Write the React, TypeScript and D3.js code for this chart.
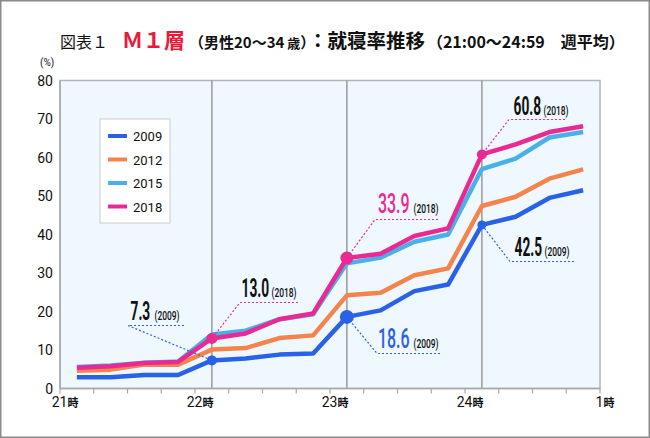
import React from "react";
import * as d3 from "d3";

const years = ["2009", "2012", "2015", "2018"];
const colors = ["#2962E6", "#F5844C", "#4AB0EA", "#EA2A94"];
const s2009 = [2.9, 2.9, 3.5, 3.5, 7.3, 7.8, 8.8, 9.1, 18.6, 20.3, 25.3, 27.0, 42.5, 44.6, 49.5, 51.5];
const s2012 = [4.6, 4.9, 6.2, 6.2, 10.1, 10.5, 13.1, 13.8, 24.2, 24.9, 29.4, 31.2, 47.4, 49.8, 54.5, 56.9];
const s2015 = [5.6, 6.0, 6.7, 7.0, 14.0, 15.0, 18.0, 19.3, 32.5, 34.0, 38.1, 40.0, 57.0, 59.7, 65.2, 66.6];
const s2018 = [5.4, 5.8, 6.6, 6.9, 13.0, 14.3, 18.0, 19.5, 33.9, 35.0, 39.6, 41.6, 60.8, 63.4, 66.6, 68.1];
const series = [s2009, s2012, s2015, s2018];
const yTicks = [0, 10, 20, 30, 40, 50, 60, 70, 80];
const hourLabels = ["21", "22", "23", "24", "1"];

const W = 650, H = 438;
const x = d3.scaleLinear().domain([0, 16]).range([60, 600]);
const y = d3.scaleLinear().domain([0, 80]).range([388.5, 80.5]);

type Ann = { s: number; i: number; r: number; num: string; yr: string; numColor: string; big: boolean; tx: number; ty: number; lx1: number; lx2: number; ly: number; };
const anns: Ann[] = [
  { s: 0, i: 4, r: 5, num: "7.3", yr: "(2009)", numColor: "#111", big: false, tx: 130.5, ty: 320, lx1: 128, lx2: 184, ly: 325.5 },
  { s: 3, i: 4, r: 5.5, num: "13.0", yr: "(2018)", numColor: "#111", big: false, tx: 241.5, ty: 297, lx1: 240, lx2: 298, ly: 302.5 },
  { s: 3, i: 8, r: 6.5, num: "33.9", yr: "(2018)", numColor: "#EA2A94", big: true, tx: 378, ty: 213, lx1: 375, lx2: 438, ly: 219.5 },
  { s: 0, i: 8, r: 7, num: "18.6", yr: "(2009)", numColor: "#2962E6", big: true, tx: 378, ty: 347.5, lx1: 377, lx2: 440, ly: 353.5 },
  { s: 3, i: 12, r: 5, num: "60.8", yr: "(2018)", numColor: "#111", big: false, tx: 513.5, ty: 114.5, lx1: 509, lx2: 565, ly: 119.5 },
  { s: 0, i: 12, r: 4.5, num: "42.5", yr: "(2009)", numColor: "#111", big: false, tx: 514.5, ty: 255.5, lx1: 510, lx2: 574, ly: 261.5 },
];

const condensedFont = "Roboto, 'Liberation Sans', sans-serif";

function CondText({ x0, y0, text, size, fill, sx, weight }: { x0: number; y0: number; text: string; size: number; fill: string; sx: number; weight: number }) {
  return (
    <text transform={`translate(${x0},${y0}) scale(${sx},1)`} fontFamily={condensedFont} fontSize={size} fontWeight={weight} fill={fill}>
      {text}
    </text>
  );
}

export default function App() {
  const line = d3.line<number>().x((_, i) => x(i + 0.5)).y((d) => y(d));
  const jp = "'Noto Sans CJK JP', 'Noto Sans', sans-serif";
  const ticks = d3.range(0, 17);
  return (
    <svg width={W} height={H} style={{ position: "absolute", left: 0, top: 0, background: "#fff" }}>
      <rect x={0.75} y={0.75} width={W - 1.5} height={H - 1.5} fill="#fff" stroke="#8a8a8a" strokeWidth={1.5} />
      {/* title */}
      <text y={48} fontFamily={jp} fill="#111">
        <tspan x={60} fontSize={16} fontWeight={400}>図表１</tspan>
        <tspan x={122} fontSize={21} fontWeight={700} fill="#E8193C">Ｍ１層</tspan>
        <tspan x={189} fontSize={15} fontWeight={700}>（男性20～34</tspan>
        <tspan fontSize={13} fontWeight={700}> 歳</tspan>
        <tspan fontSize={15} fontWeight={700}>）</tspan>
        <tspan fontSize={19.5} fontWeight={700}>：就寝率推移</tspan>
        <tspan fontSize={16} fontWeight={700} dx={2}>（21:00～24:59　週平均）</tspan>
      </text>
      <text x={40} y={66} fontFamily={condensedFont} fontSize={10} fill="#111">(%)</text>
      {/* plot bg */}
      <rect x={x(0)} y={y(80)} width={x(16) - x(0)} height={y(0) - y(80)} fill="#EFF8FE" stroke="#b4b4b4" strokeWidth={1.5} />
      {[4.5, 8.5, 12.5].map((v) => (
        <line key={v} x1={x(v)} x2={x(v)} y1={y(80)} y2={y(0)} stroke="#9a9a9a" strokeWidth={1.5} />
      ))}
      {/* axes */}
      <line x1={x(0)} x2={x(0)} y1={y(80)} y2={y(0)} stroke="#a8a8a8" strokeWidth={1.5} />
      <line x1={x(0)} x2={x(16)} y1={y(0)} y2={y(0)} stroke="#a8a8a8" strokeWidth={1.5} />
      {ticks.map((t) => (
        <line key={t} x1={x(t)} x2={x(t)} y1={y(0)} y2={y(0) + 5} stroke="#a8a8a8" strokeWidth={1.2} />
      ))}
      {yTicks.map((t) => (
        <text key={t} x={53} y={y(t) + 5} textAnchor="end" fontFamily={condensedFont} fontSize={14} fill="#111">{t}</text>
      ))}
      {hourLabels.map((h, k) => (
        <text key={h} x={x(k * 4) + 5} y={407} textAnchor="middle" fontFamily={jp} fill="#111">
          <tspan fontSize={14} fontFamily={condensedFont}>{h}</tspan>
          <tspan fontSize={11} fontWeight={700}>時</tspan>
        </text>
      ))}
      {/* series */}
      {series.map((s, k) => (
        <path key={years[k]} d={line(s) || ""} fill="none" stroke={colors[k]} strokeWidth={4.5} strokeLinejoin="round" />
      ))}
      {/* annotations */}
      {anns.map((a, k) => {
        const px = x(a.i + 0.5), py = y(series[a.s][a.i]);
        return (
          <g key={k}>
            <polyline points={`${a.lx2},${a.ly} ${a.lx1},${a.ly} ${px},${py}`} fill="none" stroke={colors[a.s]} strokeWidth={1.2} strokeDasharray="2 2" />
            <circle cx={px} cy={py} r={a.r} fill={colors[a.s]} />
            <CondText x0={a.tx} y0={a.ty} text={a.num} size={a.big ? 28 : 25} fill={a.numColor} sx={a.big ? 0.57 : 0.55} weight={a.big ? 500 : 700} />
            <CondText x0={a.tx + (a.big ? 35.5 : (a.num.length === 3 ? 24 : 30))} y0={a.ty} text={a.yr} size={13} fill="#111" sx={0.65} weight={500} />
          </g>
        );
      })}
      {/* legend */}
      <rect x={100} y={119} width={70} height={104} fill="#fff" stroke="#d4d4d4" strokeWidth={1.2} />
      {years.map((yr, k) => (
        <g key={yr}>
          <line x1={108} x2={127} y1={136 + k * 23.5} y2={136 + k * 23.5} stroke={colors[k]} strokeWidth={4} />
          <text x={133} y={136 + k * 23.5 + 5} fontFamily={condensedFont} fontSize={13} fill="#111">{yr}</text>
        </g>
      ))}
    </svg>
  );
}
